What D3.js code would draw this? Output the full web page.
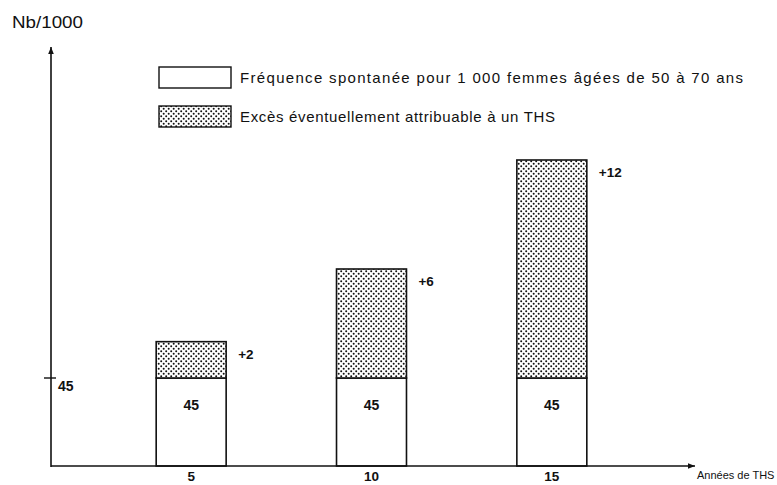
<!DOCTYPE html>
<html><head><meta charset="utf-8">
<script src="https://cdn.jsdelivr.net/npm/d3@7"></script>
<style>body{margin:0;background:#fff}svg{display:block}text{font-family:"Liberation Sans",Arial,sans-serif;fill:#111}</style>
</head><body>
<script>
const categories = ["5", "10", "15"];
const baseValues = [45, 45, 45];
const excessValues = [2, 6, 12];
const excessLabels = ["+2", "+6", "+12"];
const yTickValues = [45];
const legendLabels = ["Fréquence spontanée pour 1 000 femmes âgées de 50 à 70 ans", "Excès éventuellement attribuable à un THS"];

const W = 777, H = 485;
const svg = d3.select("body").append("svg").attr("width", W).attr("height", H);
const defs = svg.append("defs");
const pat = defs.append("pattern").attr("id", "dots").attr("patternUnits", "userSpaceOnUse").attr("width", 5).attr("height", 5);
pat.append("rect").attr("width", 5).attr("height", 5).attr("fill", "#fff");
pat.append("circle").attr("cx", 1.2).attr("cy", 1.2).attr("r", 1.0).attr("fill", "#111");
pat.append("circle").attr("cx", 3.7).attr("cy", 3.7).attr("r", 1.0).attr("fill", "#111");
defs.append("marker").attr("id", "arr").attr("viewBox", "0 0 10 10").attr("refX", 10).attr("refY", 5)
  .attr("markerWidth", 9).attr("markerHeight", 7).attr("markerUnits", "userSpaceOnUse").attr("orient", "auto")
  .append("path").attr("d", "M0,1 L10,5 L0,9 Z").attr("fill", "#111");

const x0 = 51, y0 = 466;
const x = d3.scaleBand().domain(categories).range([101, 642]).paddingInner(0.612).paddingOuter(0.306);
// broken (schematic) vertical scale: base segment compressed
const y = d3.scaleLinear().domain([0, 45, 57]).range([y0, 378, 160]);

// bars
categories.forEach((c, i) => {
  const bx = x(c), bw = x.bandwidth();
  svg.append("rect").attr("x", bx).attr("y", y(baseValues[i])).attr("width", bw).attr("height", y(0) - y(baseValues[i]))
    .attr("fill", "#fff").attr("stroke", "#111").attr("stroke-width", 1.6);
  svg.append("rect").attr("x", bx).attr("y", y(baseValues[i] + excessValues[i])).attr("width", bw)
    .attr("height", y(baseValues[i]) - y(baseValues[i] + excessValues[i]))
    .attr("fill", "url(#dots)").attr("stroke", "#111").attr("stroke-width", 1.6);
  svg.append("text").attr("x", bx + bw / 2).attr("y", y(baseValues[i]) + 32).attr("text-anchor", "middle")
    .attr("font-size", 14).attr("font-weight", "bold").text(baseValues[i]);
  svg.append("text").attr("x", bx + bw + 12).attr("y", y(baseValues[i] + excessValues[i]) + 17)
    .attr("font-size", 13.5).attr("font-weight", "bold").text(excessLabels[i]);
  svg.append("text").attr("x", bx + bw / 2).attr("y", y0 + 15).attr("text-anchor", "middle")
    .attr("font-size", 13.5).attr("font-weight", "bold").text(c);
});

// axes
svg.append("line").attr("x1", x0).attr("y1", y0 + 1).attr("x2", x0).attr("y2", 47).attr("stroke", "#111").attr("stroke-width", 1.6).attr("marker-end", "url(#arr)");
svg.append("line").attr("x1", x0).attr("y1", y0).attr("x2", 695).attr("y2", y0).attr("stroke", "#111").attr("stroke-width", 1.4).attr("marker-end", "url(#arr)");
yTickValues.forEach(v => {
  svg.append("line").attr("x1", x0 - 7).attr("x2", x0 + 5).attr("y1", y(v)).attr("y2", y(v)).attr("stroke", "#111").attr("stroke-width", 1.4);
  svg.append("text").attr("x", x0 + 7).attr("y", y(v) + 13).attr("font-size", 14).attr("font-weight", "bold").text(v);
});
svg.append("text").attr("x", 12).attr("y", 28).attr("font-size", 17).attr("textLength", 71).attr("lengthAdjust", "spacingAndGlyphs").text("Nb/1000");
svg.append("text").attr("x", 697).attr("y", 479).attr("font-size", 11).text("Années de THS");

// legend
const legY = [67, 106];
const legW = [503, 315];
legendLabels.forEach((l, i) => {
  svg.append("rect").attr("x", 159).attr("y", legY[i]).attr("width", 72).attr("height", 21)
    .attr("fill", i === 0 ? "#fff" : "url(#dots)").attr("stroke", "#111").attr("stroke-width", 1.4);
  svg.append("text").attr("x", 240).attr("y", legY[i] + 16).attr("font-size", 15)
    .attr("textLength", legW[i]).attr("lengthAdjust", "spacing").text(l);
});
</script>
</body></html>
